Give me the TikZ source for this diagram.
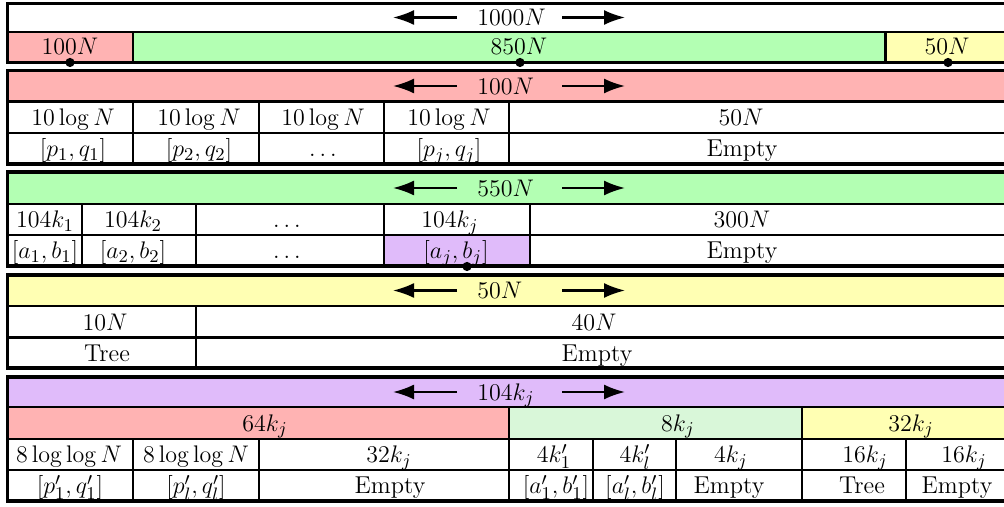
\documentclass[tikz,border=0pt]{standalone}
\usetikzlibrary{arrows.meta}
\definecolor{cellred}{RGB}{255,179,179}
\definecolor{cellgreen}{RGB}{179,255,179}
\definecolor{cellyellow}{RGB}{255,255,179}
\definecolor{cellviolet}{RGB}{224,187,250}
\definecolor{cellmint}{RGB}{217,247,217}
\tikzset{
  frame/.style={line width=1.6pt},
  rule/.style={line width=1.15pt},
  lab/.style={inner sep=0pt, text height=8.3pt, text depth=0pt,
    font=\fontsize{12.9}{15}\selectfont},
  word/.style={inner sep=0pt, text height=8.1pt, text depth=0pt,
    font=\fontsize{12.2}{14}\selectfont},
  span/.style={line width=1.1pt, -{Latex[length=10.5pt,width=7.5pt]}},
  dot/.style={circle, fill=black, inner sep=0pt, minimum size=4.6pt},
}
% header row of a block: two span arrows with the size between them
\newcommand\spanrow[3]{%
  \coordinate (#1-la) at (457,#2); \coordinate (#1-lb) at (393,#2);
  \coordinate (#1-ra) at (562,#2); \coordinate (#1-rb) at (625,#2);
  \draw[span] (#1-la) -- (#1-lb);
  \draw[span] (#1-ra) -- (#1-rb);
  \node[lab, anchor=west] (#1) at (477,#2) {#3};
}
\def\R{1014}
\begin{document}
\begin{tikzpicture}[x=0.5pt, y=-0.5pt]
\useasboundingbox (0,0) rectangle (1004,507);
\clip (0,0) rectangle (1004,507);

% ---- block 1: whole memory
\fill[cellred] (7.5,32) rectangle (133,62.5);
\fill[cellgreen] (133,32) rectangle (885.5,62.5);
\fill[cellyellow] (885.5,32) rectangle (\R,62.5);
\draw[rule] (7.5,32) -- (\R,32);
\foreach \x in {133,885.5} \draw[rule] (\x,32) -- (\x,62.5);
\draw[frame] (7.5,3.5) rectangle (\R,62.5);
\spanrow{total}{17.5}{$1000N$}
\node[lab] (partA) at (70,46) {$100N$};
\node[lab] (partB) at (519,46) {$850N$};
\node[lab] (partC) at (947,46) {$50N$};

% ---- block 2: 100N part
\fill[cellred] (7.5,70.5) rectangle (\R,101.5);
\foreach \y in {101.5,133} \draw[rule] (7.5,\y) -- (\R,\y);
\foreach \x in {133,259,384,509} \draw[rule] (\x,101.5) -- (\x,164);
\draw[frame] (7.5,70.5) rectangle (\R,164);
\spanrow{hdA}{86}{$100N$}
\node[lab] (pa1) at (73,117) {$10\log N$};
\node[lab] (pa2) at (199,117) {$10\log N$};
\node[lab] (pa3) at (323,117) {$10\log N$};
\node[lab] (pa4) at (449,117) {$10\log N$};
\node[lab] (pa5) at (741,117) {$50N$};
\node[lab] (pb1) at (73,148.5) {$[p_1,q_1]$};
\node[lab] (pb2) at (199,148.5) {$[p_2,q_2]$};
\node[lab] (pb3) at (323,148.5) {$\dots$};
\node[lab] (pb4) at (449,148.5) {$[p_j,q_j]$};
\node[word] (pb5) at (742,148.5) {Empty};

% ---- block 3: 550N part
\fill[cellgreen] (7.5,172) rectangle (\R,204);
\fill[cellviolet] (384,235) rectangle (530,266);
\foreach \y in {204,235} \draw[rule] (7.5,\y) -- (\R,\y);
\foreach \x in {82,196,384,530} \draw[rule] (\x,204) -- (\x,266);
\draw[frame] (7.5,172) rectangle (\R,266);
\spanrow{hdB}{188}{$550N$}
\node[lab] (ba1) at (45,219.5) {$104k_1$};
\node[lab] (ba2) at (133,219.5) {$104k_2$};
\node[lab] (ba3) at (287,219.5) {$\dots$};
\node[lab] (ba4) at (450,219.5) {$104k_j$};
\node[lab] (ba5) at (742,219.5) {$300N$};
\node[lab] (bb1) at (45,250.5) {$[a_1,b_1]$};
\node[lab] (bb2) at (133,250.5) {$[a_2,b_2]$};
\node[lab] (bb3) at (287,250.5) {$\dots$};
\node[lab] (bb4) at (456,250.5) {$[a_j,b_j]$};
\node[word] (bb5) at (742,250.5) {Empty};

% ---- block 4: 50N part
\fill[cellyellow] (7.5,275) rectangle (\R,306);
\foreach \y in {306,337.5} \draw[rule] (7.5,\y) -- (\R,\y);
\draw[rule] (196,306) -- (196,368);
\draw[frame] (7.5,275) rectangle (\R,368);
\spanrow{hdC}{290.5}{$50N$}
\node[lab] (ca1) at (105,322) {$10N$};
\node[lab] (ca2) at (594,322) {$40N$};
\node[word] (cb1) at (107,353) {Tree};
\node[word] (cb2) at (597,353) {Empty};

% ---- block 5: one 104k_j chunk
\fill[cellviolet] (7.5,377) rectangle (\R,407);
\fill[cellred] (7.5,407) rectangle (509,439);
\fill[cellmint] (509,407) rectangle (802,439);
\fill[cellyellow] (802,407) rectangle (\R,439);
\foreach \y in {407,439,470} \draw[rule] (7.5,\y) -- (\R,\y);
\foreach \x in {509,802} \draw[rule] (\x,407) -- (\x,501);
\foreach \x in {133,259,593,676,906} \draw[rule] (\x,439) -- (\x,501);
\draw[frame] (7.5,377) rectangle (\R,501);
\spanrow{hdD}{392}{$104k_j$}
\node[lab] (da1) at (265,423) {$64k_j$};
\node[lab] (da2) at (678,423) {$8k_j$};
\node[lab] (da3) at (911,423) {$32k_j$};
\node[lab] (db1) at (69,454.5) {$8\log\log N$};
\node[lab] (db2) at (196,454.5) {$8\log\log N$};
\node[lab] (db3) at (389,454.5) {$32k_j$};
\node[lab] (db4) at (554,454.5) {$4k'_1$};
\node[lab] (db5) at (635,454.5) {$4k'_l$};
\node[lab] (db6) at (731,454.5) {$4k_j$};
\node[lab] (db7) at (865,454.5) {$16k_j$};
\node[lab] (db8) at (964,454.5) {$16k_j$};
\node[lab] (dc1) at (70,485.5) {$[p'_1,q'_1]$};
\node[lab] (dc2) at (196,485.5) {$[p'_l,q'_l]$};
\node[word] (dc3) at (390,485.5) {Empty};
\node[lab] (dc4) at (556,485.5) {$[a'_1,b'_1]$};
\node[lab] (dc5) at (635,485.5) {$[a'_l,b'_l]$};
\node[word] (dc6) at (729,485.5) {Empty};
\node[word] (dc7) at (862,485.5) {Tree};
\node[word] (dc8) at (957,485.5) {Empty};

% ---- markers on the split points
\node[dot] (mA) at (70,62.5) {};
\node[dot] (mB) at (520,62.5) {};
\node[dot] (mC) at (948,62.5) {};
\node[dot] (mD) at (467,266.5) {};
\end{tikzpicture}
\end{document}
